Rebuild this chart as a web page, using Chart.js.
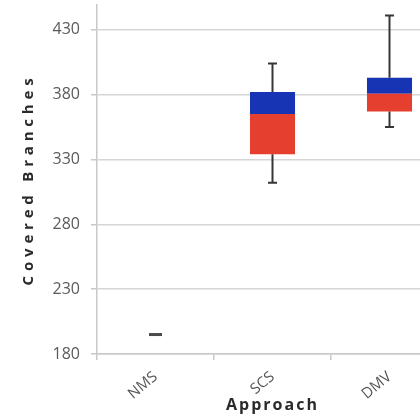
<!DOCTYPE html>
<html>
<head>
<meta charset="utf-8">
<script src="https://cdn.jsdelivr.net/npm/chart.js@4"></script>
<style>
  html, body { margin: 0; padding: 0; background: #fff; overflow: hidden; width: 420px; height: 420px; }
  #wrap { position: relative; width: 460px; height: 420px; }
</style>
</head>
<body>
<div id="wrap"><canvas id="c" width="460" height="420"></canvas></div>
<script>
// Covered branches per approach: five-number summaries
const categories  = ['NMS', 'SCS', 'DMV'];
const whiskerLow  = [195, 312, 355];
const q1          = [195, 334, 367];
const median      = [195, 365, 380.5];
const q3          = [195, 382, 393];
const whiskerHigh = [195, 404, 441];
const yTicks      = [180, 230, 280, 330, 380, 430];

const RED  = '#e5402f';
const BLUE = '#1634b4';
const WHISKER = '#363636';

// Whiskers and caps, placed through the chart's own scales
const whiskerPlugin = {
  id: 'whiskers',
  afterDatasetsDraw(chart) {
    const { ctx, scales: { x, y } } = chart;
    ctx.save();
    ctx.strokeStyle = WHISKER;
    ctx.lineCap = 'butt';
    categories.forEach((_, i) => {
      const px = x.getPixelForValue(i);
      const yLo = y.getPixelForValue(whiskerLow[i]);
      const yQ1 = y.getPixelForValue(q1[i]);
      const yQ3 = y.getPixelForValue(q3[i]);
      const yHi = y.getPixelForValue(whiskerHigh[i]);
      if (whiskerLow[i] === whiskerHigh[i]) {
        // all values equal: a single flat dash
        ctx.lineWidth = 3;
        ctx.strokeStyle = '#4a4a4a';
        ctx.beginPath();
        ctx.moveTo(px - 6.5, yLo);
        ctx.lineTo(px + 6.5, yLo);
        ctx.stroke();
        ctx.strokeStyle = WHISKER;
        return;
      }
      ctx.lineWidth = 2;
      ctx.beginPath();
      ctx.moveTo(px, yLo); ctx.lineTo(px, yQ1);
      ctx.moveTo(px, yQ3); ctx.lineTo(px, yHi);
      ctx.moveTo(px - 4.5, yLo); ctx.lineTo(px + 4.5, yLo);
      ctx.moveTo(px - 4.5, yHi); ctx.lineTo(px + 4.5, yHi);
      ctx.stroke();
    });
    ctx.restore();
  }
};

// Letter-spaced axis titles
const titleSpacing = { x: '2px', y: '4.8px' };
const spacedTitles = {
  id: 'spacedTitles',
  beforeDraw(chart) {
    Object.values(chart.scales).forEach(s => {
      if (s._spacedTitle) return;
      const orig = s.drawTitle.bind(s);
      const spacing = titleSpacing[s.id] || '0px';
      s.drawTitle = function () {
        const ctx = this.ctx;
        ctx.save();
        ctx.letterSpacing = spacing;
        orig();
        ctx.restore();
      };
      s._spacedTitle = true;
    });
  }
};

new Chart(document.getElementById('c'), {
  type: 'bar',
  data: {
    labels: categories,
    datasets: [
      {
        label: 'Q1 to median',
        data: categories.map((_, i) => [q1[i], median[i]]),
        backgroundColor: RED,
        grouped: false,
        categoryPercentage: 1,
        barPercentage: 0.385,
        borderWidth: 0
      },
      {
        label: 'Median to Q3',
        data: categories.map((_, i) => [median[i], q3[i]]),
        backgroundColor: BLUE,
        grouped: false,
        categoryPercentage: 1,
        barPercentage: 0.385,
        borderWidth: 0
      }
    ]
  },
  options: {
    responsive: false,
    animation: false,
    devicePixelRatio: 1,
    layout: { autoPadding: false, padding: { top: 5, right: 12, left: 0, bottom: 0 } },
    plugins: { legend: { display: false }, tooltip: { enabled: false } },
    scales: {
      x: {
        grid: { drawOnChartArea: false, tickLength: 6, color: '#c8c8c8', lineWidth: 1.5, offset: true },
        border: { color: '#c8c8c8', width: 1.5 },
        ticks: {
          color: '#555555',
          font: { family: 'Open Sans', size: 15 },
          minRotation: 40, maxRotation: 40,
          padding: 8
        },
        title: {
          display: true,
          text: 'Approach',
          color: '#2a2a2a',
          font: { family: 'Open Sans', size: 16, weight: 'bold' },
          padding: { top: 0, bottom: 5 }
        },
        afterFit(scale) {
          scale.height = 66;
          scale.paddingLeft = 0;
          scale.paddingRight = 0;
        }
      },
      y: {
        min: 180,
        max: 449,
        afterBuildTicks(scale) { scale.ticks = yTicks.map(v => ({ value: v })); },
        grid: { color: '#d6d6d6', lineWidth: 1.5, tickLength: 6, tickColor: '#c8c8c8' },
        border: { color: '#c8c8c8', width: 1.5 },
        ticks: {
          color: '#5a5a5a',
          font: { family: 'Open Sans', size: 16 },
          padding: 11
        },
        title: {
          display: true,
          text: 'Covered Branches',
          color: '#2a2a2a',
          font: { family: 'Open Sans', size: 15, weight: 'bold' },
          padding: { top: 20, bottom: 0 }
        },
        afterFit(scale) {
          scale.width = 97;
          scale.paddingTop = 0;
          scale.paddingBottom = 0;
        }
      }
    }
  },
  plugins: [whiskerPlugin, spacedTitles]
});
</script>
</body>
</html>
